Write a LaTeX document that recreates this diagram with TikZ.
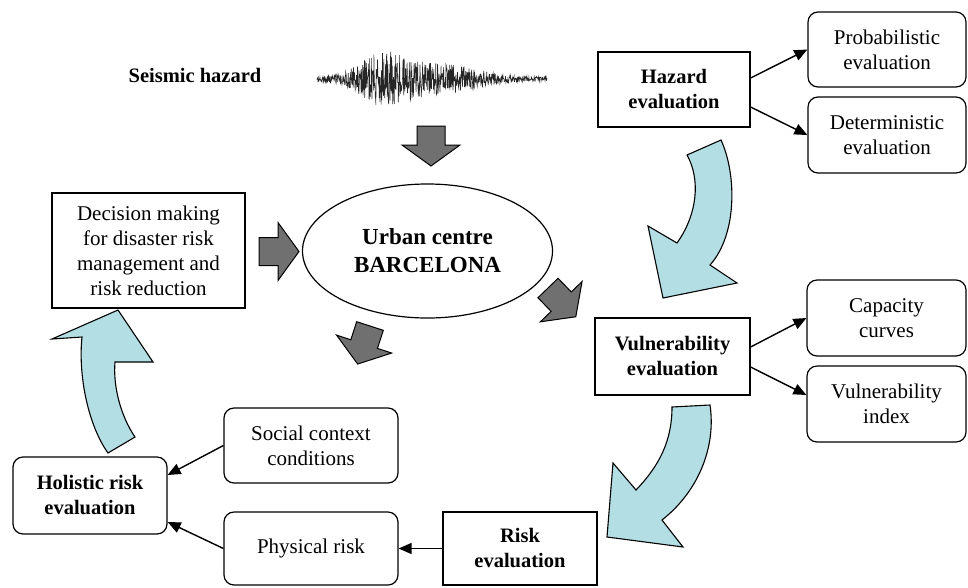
\documentclass[tikz,border=0pt]{standalone}
\usepackage{fontspec}
\setmainfont{Liberation Serif}
\usetikzlibrary{arrows.meta, shapes.geometric}
\definecolor{flowblue}{RGB}{178,222,228}
\definecolor{shadegray}{RGB}{112,112,112}

\begin{document}
\begin{tikzpicture}[x=1pt, y=-1pt,
    every node/.style={font=\fontsize{21}{25}\selectfont, align=center, inner sep=0pt},
    strong/.style={font=\fontsize{20.5}{25}\selectfont\bfseries},
    box/.style={draw, line width=1.2pt},
    rbox/.style={box, rounded corners=10pt},
    link/.style={-{Triangle[length=13pt, width=11pt]}, line width=1.4pt},
    flow/.style={draw=black, line width=1.1pt, fill=flowblue},
    declare function={env(\t)=2.5+24*exp(-((\t-385)/32)^2)+12*exp(-((\t-445)/45)^2);},
    blockarr/.pic={\draw[line width=1pt, fill=shadegray]
        (0,-14) -- (19,-14) -- (19,-29) -- (40,0) -- (19,29) -- (19,14) -- (0,14) -- cycle;}
  ]
    \useasboundingbox (0,0) rectangle (968,587);

    \node[strong] (seis) at (195,75) {Seismic hazard};
    \pgfmathsetseed{7}
    \draw[line width=0.55pt, black!85] plot[domain=317:547, samples=700] (\x, {79+env(\x)*rand});

    \node[ellipse, box, minimum width=250pt, minimum height=134pt,
        font=\fontsize{23}{28}\selectfont\bfseries] (city) at (427.5,251) {Urban centre\\BARCELONA};
    \node[box, minimum width=193pt, minimum height=115pt] (dec) at (148.5,250.5)
        {Decision making\\for disaster risk\\management and\\risk reduction};

    \node[box, strong, minimum width=152pt, minimum height=75pt] (haz) at (674,89.5) {Hazard\\evaluation};
    \node[rbox, minimum width=158pt, minimum height=75pt] (prob) at (887,49.5) {Probabilistic\\evaluation};
    \node[rbox, minimum width=158pt, minimum height=76pt] (det) at (887,135) {Deterministic\\evaluation};

    \node[box, strong, minimum width=155pt, minimum height=77pt] (vul) at (672.5,356.5) {Vulnerability\\evaluation};
    \node[rbox, minimum width=159pt, minimum height=76pt] (cap) at (886.5,318) {Capacity\\curves};
    \node[rbox, minimum width=159pt, minimum height=76pt] (vind) at (886.5,404) {Vulnerability\\index};

    \node[box, strong, minimum width=154pt, minimum height=73pt] (risk) at (520,548.5) {Risk\\evaluation};
    \node[rbox, minimum width=174pt, minimum height=73pt] (phys) at (311,548.5) {Physical risk};
    \node[rbox, minimum width=174pt, minimum height=75pt] (soc) at (311,445.5) {Social context\\conditions};
    \node[rbox, strong, minimum width=154pt, minimum height=77pt] (hol) at (90,495.5) {Holistic risk\\evaluation};

    \draw[link] ([yshift=11.5pt]haz.east) -- (prob.west);
    \draw[link] ([yshift=-17.5pt]haz.east) -- (det.west);
    \draw[link] ([yshift=9.5pt]vul.east) -- (cap.west);
    \draw[link] ([yshift=-10.5pt]vul.east) -- ([yshift=9pt]vind.west);
    \draw[link] (risk.west) -- (phys.east);
    \draw[link] (soc.west) -- ([yshift=20.5pt]hol.east);
    \draw[link] (phys.west) -- ([yshift=-26.5pt]hol.east);

    \pic[rotate=-90] at (431,126) {blockarr};
    \pic at (259,251.5) {blockarr};
    \pic[rotate=-108] at (370,326) {blockarr};
    \pic[rotate=-46] at (548,288) {blockarr};

    \draw[flow] (687,155) -- (721,140) .. controls (737,175) and (737,235) .. (710,265)
        -- (737,283) -- (663,298) -- (648,226) -- (677,243)
        .. controls (697,215) and (701,180) .. (687,155) -- cycle;
    \draw[flow] (672,407) -- (710,405) .. controls (716,445) and (700,490) .. (662,520)
        -- (683,547) -- (607,537) -- (613,463) -- (636,490)
        .. controls (660,465) and (672,440) .. (672,407) -- cycle;
    \draw[flow] (108,453) -- (135,437) .. controls (120,415) and (113,385) .. (115,362)
        -- (153,362) -- (118,310) -- (52,339) -- (82,337)
        .. controls (78,375) and (88,425) .. (108,453) -- cycle;
\end{tikzpicture}
\end{document}
